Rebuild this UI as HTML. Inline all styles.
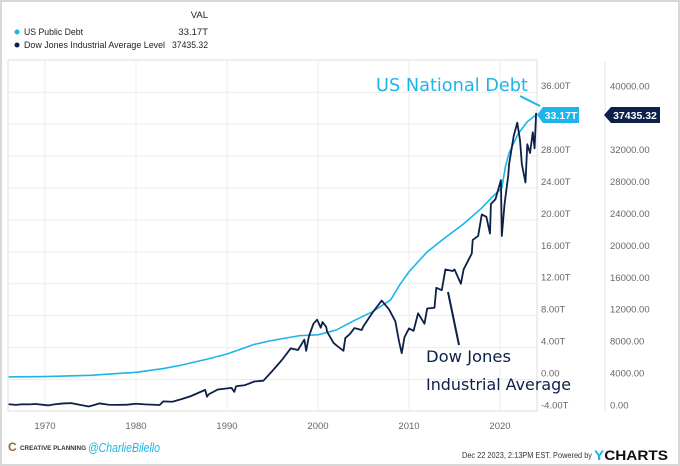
<!DOCTYPE html>
<html><head><meta charset="utf-8"><style>
body{margin:0;width:680px;height:466px;background:#fff;overflow:hidden;font-family:"Liberation Sans",sans-serif}
svg{position:absolute;left:0;top:0}
</style></head><body>
<svg width="680" height="466" id="c">
<rect x="1" y="1" width="678" height="464" fill="#fff" stroke="#d8d8d8" stroke-width="2"/>
<g font-size="9.5" fill="#222">
<text x="208" y="18" text-anchor="end">VAL</text>
<circle cx="17" cy="32" r="2.5" fill="#1bb5eb"/>
<text x="24" y="35" textLength="59" lengthAdjust="spacingAndGlyphs">US Public Debt</text>
<text x="208" y="35" text-anchor="end">33.17T</text>
<circle cx="17" cy="45" r="2.5" fill="#0c2048"/>
<text x="24" y="48" textLength="141" lengthAdjust="spacingAndGlyphs">Dow Jones Industrial Average Level</text>
<text x="208" y="48" text-anchor="end" textLength="36" lengthAdjust="spacingAndGlyphs">37435.32</text>
</g>
<rect x="8" y="60" width="529" height="351" fill="none" stroke="#ddd"/>
<line x1="605" y1="62" x2="605" y2="412" stroke="#e6e6e6"/>
<g id="grid"></g><g id="axes" font-size="9.5" fill="#666"></g><g id="series"></g>
<g font-family="'DejaVu Sans',sans-serif">
<text x="376" y="91" font-size="18" fill="#1bb5eb" textLength="152" lengthAdjust="spacingAndGlyphs">US National Debt</text>
<line x1="520" y1="96" x2="540" y2="106" stroke="#1bb5eb" stroke-width="2"/>
<text x="426" y="362" font-size="16" fill="#0c2048" textLength="85" lengthAdjust="spacingAndGlyphs">Dow Jones</text>
<text x="426" y="390" font-size="16" fill="#0c2048" textLength="145" lengthAdjust="spacingAndGlyphs">Industrial Average</text>
<line x1="448" y1="292" x2="459" y2="345" stroke="#0c2048" stroke-width="2"/>
</g>
<g>
<polygon points="537,115 543,107 579,107 579,123 543,123" fill="#1bb5eb"/>
<text x="561" y="119" font-size="10.5" font-weight="bold" fill="#fff" text-anchor="middle">33.17T</text>
</g>
<g>
<polygon points="604,115 611,107 660,107 660,123 611,123" fill="#0c2048"/>
<text x="635" y="119" font-size="10.5" font-weight="bold" fill="#fff" text-anchor="middle">37435.32</text>
</g>
<g>
<text x="8" y="451" font-size="12" font-weight="bold" fill="#8a6d3b">C</text>
<text x="20" y="450" font-size="6" font-weight="bold" fill="#333" textLength="66" lengthAdjust="spacingAndGlyphs">CREATIVE PLANNING</text>
<text x="88" y="452" font-size="13" fill="#1bb5eb" font-style="italic" textLength="72" lengthAdjust="spacingAndGlyphs">@CharlieBilello</text>
<text x="462" y="458" font-size="8" fill="#333" textLength="130" lengthAdjust="spacingAndGlyphs">Dec 22 2023, 2:13PM EST.  Powered by</text>
<text x="594" y="460" font-size="14" font-weight="bold" fill="#111" textLength="74" lengthAdjust="spacingAndGlyphs"><tspan fill="#1bb5eb">Y</tspan>CHARTS</text>
</g>
</svg>
<script>
const xTicks=[1970,1980,1990,2000,2010,2020];
const debtTicks=[-4,0,4,8,12,16,20,24,28,32,36];
const debtTickLabels=["-4.00T","0.00","4.00T","8.00T","12.00T","16.00T","20.00T","24.00T","28.00T","32.00T","36.00T"];
const dowTicks=[0,4000,8000,12000,16000,20000,24000,28000,32000,36000,40000];
const debtYears=[1966,1970,1975,1980,1983,1985,1988,1990,1993,1995,1998,2000,2002,2004,2006,2008,2009,2010,2012,2014,2016,2018,2019,2020.2,2020.6,2021,2022,2023,2023.97];
const debtVals=[0.32,0.37,0.53,0.9,1.37,1.8,2.6,3.2,4.4,4.9,5.5,5.6,6.2,7.4,8.5,10,11.9,13.5,16,17.8,19.5,21.5,22.7,24,26.7,28.4,30.8,32.3,33.17];
const dowYears=[1966,1966.8,1967.5,1968.3,1969,1970.4,1971,1972,1972.9,1973.5,1974.8,1975.5,1976,1977,1978,1979,1980,1981,1982.6,1983,1984,1985,1986,1987.6,1987.8,1988,1989,1990.5,1990.8,1991,1992,1993,1994,1995,1996,1997,1997.8,1998.5,1998.7,1999,1999.5,1999.9,2000.3,2000.5,2000.9,2001,2001.7,2002,2002.8,2003,2003.5,2004,2004.8,2005,2006,2007,2007.8,2008.5,2008.9,2009.2,2009.5,2010,2010.5,2011,2011.7,2012,2012.8,2013,2013.6,2014,2014.8,2015,2015.7,2016,2016.9,2017,2017.6,2018,2018.5,2018.9,2019,2019.5,2020.1,2020.2,2020.5,2020.9,2021,2021.5,2021.9,2022.2,2022.4,2022.8,2023,2023.3,2023.6,2023.8,2023.97];
const dowVals=[900,820,900,880,930,750,880,1000,1040,900,620,840,1000,830,820,840,960,880,800,1260,1210,1540,1900,2700,1850,2150,2750,2950,2450,3150,3300,3750,3850,5100,6400,7900,7700,9000,7600,9400,11000,11500,10500,11200,10600,10000,8600,8300,7600,9200,9700,10450,10200,10700,12400,13900,12800,11300,8800,7300,9300,10400,10100,12300,11000,12900,13000,15500,15200,17800,17600,17800,16000,17800,19800,21500,22000,24700,24400,22300,26000,26600,29000,22000,26000,29500,31000,34500,36200,34000,31000,28700,33500,32400,35000,33000,37435];
const X=y=>318+(y-2000)*9.1;
const YD=v=>379.5-v*7.98;
const YW=v=>411.4-v*0.007975;
const ns="http://www.w3.org/2000/svg";
function mk(t,a,p){const e=document.createElementNS(ns,t);for(const k in a)e.setAttribute(k,a[k]);p.appendChild(e);return e;}
const grid=document.getElementById('grid'),axes=document.getElementById('axes'),ser=document.getElementById('series');
xTicks.forEach(t=>{
 const l=mk('line',{x1:X(t),x2:X(t),y1:61,y2:410,stroke:'#ececec'},grid);
 
 
 const tx=mk('text',{x:X(t),y:429,'text-anchor':'middle'},axes);tx.textContent=t;
 
 
});
debtTicks.forEach((t,i)=>{
 if(t>-4){const l=mk('line',{x1:9,x2:536,y1:YD(t),y2:YD(t),stroke:'#ececec'},grid);
 
 }
 const tx=mk('text',{x:541,y:YD(t)-3},axes);tx.textContent=debtTickLabels[i];
 
 
});
dowTicks.forEach(t=>{
 const tx=mk('text',{x:610,y:YW(t)-3},axes);tx.textContent=t.toFixed(2);
 
 
});
const dp=mk('polyline',{points:debtYears.map((y,i)=>X(y)+','+YD(debtVals[i])).join(' '),fill:'none',stroke:'#1bb5eb','stroke-width':1.6},ser);


const wp=mk('polyline',{points:dowYears.map((y,i)=>X(y)+','+YW(dowVals[i])).join(' '),fill:'none',stroke:'#0c2048','stroke-width':1.8,'stroke-linejoin':'round'},ser);


</script>
</body></html>
